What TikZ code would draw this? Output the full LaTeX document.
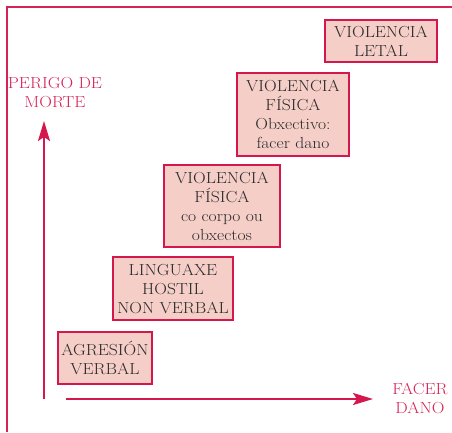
\documentclass[tikz,border=0pt]{standalone}
\usepackage{fontspec}
\setmainfont{Latin Modern Roman}[FakeStretch=1.1]
\usetikzlibrary{arrows.meta}
\definecolor{boxred}{HTML}{D4174C}
\definecolor{boxfill}{HTML}{F5CEC7}
\definecolor{textgray}{HTML}{2B2B2B}
\definecolor{axisred}{HTML}{D6245A}
\tikzset{
  stage/.style={draw=boxred, line width=2.2pt, fill=boxfill, align=center,
    text=textgray, inner sep=0pt, font=\fontsize{16}{19}\selectfont},
  axislabel/.style={align=center, text=axisred, font=\fontsize{16}{19}\selectfont},
  axis/.style={draw=boxred, line width=2pt, -{Stealth[length=20pt,width=12pt,inset=4pt]}}
}
\begin{document}
\begin{tikzpicture}[x=1pt,y=-1pt]
		\useasboundingbox (0,0) rectangle (452,432);
		% Frame
		\draw[draw=axisred, line width=1.3pt] (7,432) -- (7,7) -- (452,7);

		% Stages
		\node[stage, minimum width=112pt, minimum height=42pt] (letal) at (381,41) {VIOLENCIA\\LETAL};
		\node[stage, minimum width=112pt, minimum height=83pt] (dano) at (293,114.5) {VIOLENCIA\\FÍSICA\\Obxectivo:\\facer dano};
		\node[stage, minimum width=116pt, minimum height=82pt] (corpo) at (222,206) {VIOLENCIA\\FÍSICA\\co corpo ou\\obxectos};
		\node[stage, minimum width=120pt, minimum height=63pt] (hostil) at (173,288.5) {LINGUAXE\\HOSTIL\\NON VERBAL};
		\node[stage, minimum width=94pt, minimum height=52pt] (verbal) at (105,358) {AGRESIÓN\\VERBAL};

		% Axes
		\coordinate (origin) at (44,399);
		\coordinate (top) at (44,121);
		\coordinate (xstart) at (66,399);
		\coordinate (xend) at (373,399);
		\draw[axis] (origin) -- (top);
		\draw[axis] (xstart) -- (xend);
		\node[axislabel] (perigo) at (55,93) {PERIGO DE\\MORTE};
		\node[axislabel] (facer) at (420,398) {FACER\\DANO};
	\end{tikzpicture}
\end{document}
